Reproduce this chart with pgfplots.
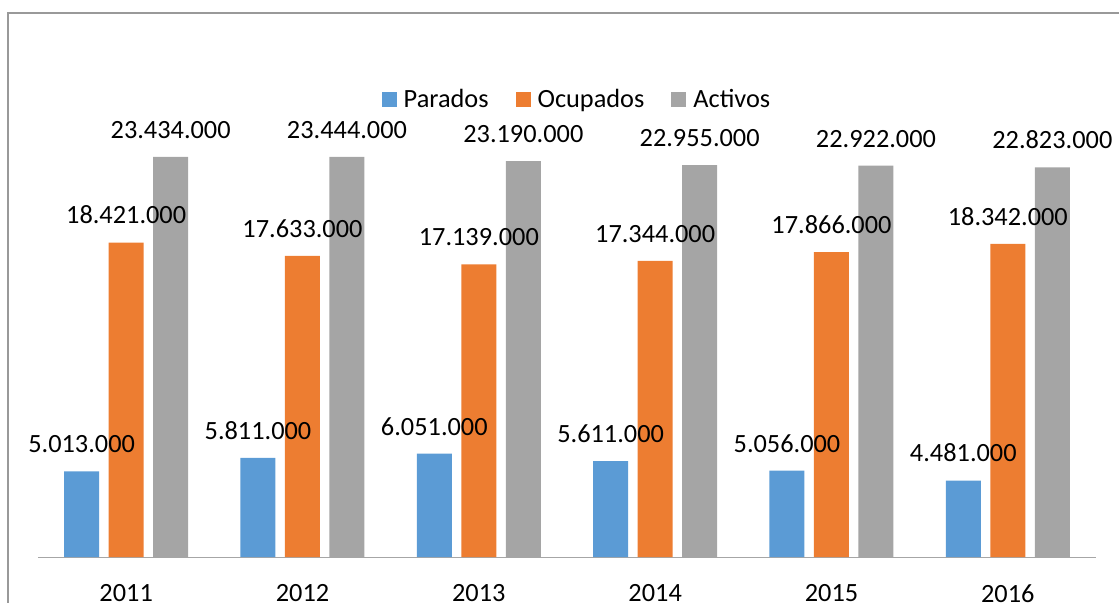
\documentclass[border=0pt]{standalone}
\usepackage{pgfplots}
\pgfplotsset{compat=1.18}
\usepackage{fontspec}
\setmainfont{Carlito}
\definecolor{cblue}{HTML}{5B9BD5}
\definecolor{corange}{HTML}{ED7D31}
\definecolor{cgray}{HTML}{A5A5A5}
\newcommand\fs{\fontsize{13.16pt}{15.8pt}\selectfont}
\begin{document}
\begin{tikzpicture}
\begin{axis}[
  at={(0pt,0pt)}, anchor=south west,
  scale only axis, width=529pt, height=213.4pt,
  xmin=-0.5, xmax=5.5, ymin=0, ymax=25000000,
  enlargelimits=false,
  axis x line*=bottom, axis y line=none,
  x axis line style={black!35, line width=0.5pt, -},
  xtick={0,1,2,3,4,5},
  xticklabels={2011,2012,2013,2014,2015,2016},
  major tick length=0pt,
  xticklabel style={font=\fs, inner sep=0pt, anchor=north, yshift=-13.5pt},
  ytick=\empty,
  ybar, bar width=17.5pt,
  clip=false,
  /pgf/number format/assume math mode=true,
  nodes near coords={\pgfmathprintnumber[fixed, precision=0, 1000 sep={.}]{\pgfplotspointmeta}},
  nodes near coords style={font=\fs, black, anchor=south, inner sep=0pt, yshift=9pt},
  legend columns=3,
  legend style={draw=none, fill=none, font=\fs, inner sep=0pt,
    at={(axis description cs:0.5085,1.071)}, anchor=center,
    nodes={inner sep=0pt},
    /tikz/every odd column/.style={column sep=3.5pt},
    /tikz/every even column/.style={column sep=13.5pt}},
]
\addplot[fill=cblue, draw=none, bar shift=-22.25pt,
  legend image code/.code={\fill[cblue] (0pt,-3.75pt) rectangle (7.5pt,3.75pt);}]
  coordinates {(0,5013000) (1,5811000) (2,6051000) (3,5611000) (4,5056000) (5,4481000)};
\addplot[fill=corange, draw=none, bar shift=0pt,
  legend image code/.code={\fill[corange] (0pt,-3.75pt) rectangle (7.5pt,3.75pt);}]
  coordinates {(0,18421000) (1,17633000) (2,17139000) (3,17344000) (4,17866000) (5,18342000)};
\addplot[fill=cgray, draw=none, bar shift=22.25pt,
  legend image code/.code={\fill[cgray] (0pt,-3.75pt) rectangle (7.5pt,3.75pt);}]
  coordinates {(0,23434000) (1,23444000) (2,23190000) (3,22955000) (4,22922000) (5,22823000)};
\legend{Parados,Ocupados,Activos}
\end{axis}
\draw[black!40, line width=0.75pt] (-15pt,-40pt) -- (-15pt,272pt) -- (580pt,272pt);
\pgfresetboundingbox
\useasboundingbox (-19pt,-22.5pt) rectangle (540.5pt,278.5pt);
\end{tikzpicture}
\end{document}
